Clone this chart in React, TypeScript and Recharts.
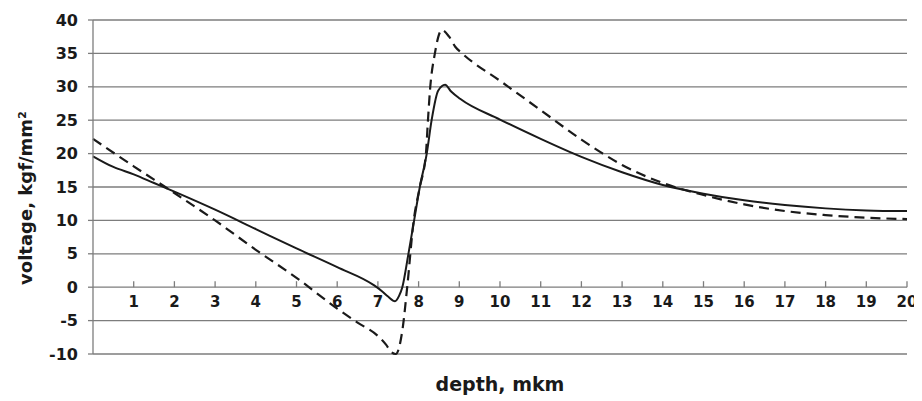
import { FC } from 'react'
import {
    CartesianGrid,
    Label,
    Line,
    LineChart,
    ReferenceDot,
    ReferenceLine,
    XAxis,
    YAxis,
} from 'recharts'

// solid curve
const solidDepth = [
    0, 0.5, 1, 1.5, 2, 3, 4, 5, 6, 6.9, 7.1, 7.25, 7.42, 7.52, 7.6, 7.75, 7.89, 8.03, 8.2, 8.32,
    8.48, 8.65, 8.8, 9.02, 10, 11, 12, 13, 14, 15, 16, 17, 18, 19, 20,
]
const solidVoltage = [
    19.6, 18.0, 16.9, 15.6, 14.3, 11.6, 8.7, 5.8, 3.0, 0.3, -0.6, -1.4, -2.1, -1.3, 0, 5, 10, 15,
    20, 25, 29.4, 30.3, 29.3, 28.2, 25.1, 22.2, 19.5, 17.2, 15.3, 14.0, 13.0, 12.3, 11.8, 11.5,
    11.4,
]

// dashed curve
const dashedDepth = [
    0, 1, 2, 3, 4, 5, 6, 6.5, 7, 7.2, 7.33, 7.44, 7.6, 7.72, 7.88, 8.03, 8.18, 8.23, 8.28, 8.4,
    8.57, 8.75, 8.9, 9.07, 10, 11, 12, 12.5, 13, 14, 15, 16, 17, 18, 19, 20,
]
const dashedVoltage = [
    22.2, 18.1, 14.1, 10, 5.6, 1.4, -3.2, -5.3, -7.3, -8.6, -9.7, -10, -6.5, 0, 10, 15, 20, 25,
    29.5, 35, 38.5, 37.5, 36, 35, 30.9, 26.5, 22.1, 20.1, 18.3, 15.6, 13.8, 12.4, 11.4, 10.8, 10.4,
    10.2,
]

const depthTicks = [1, 2, 3, 4, 5, 6, 7, 8, 9, 10, 11, 12, 13, 14, 15, 16, 17, 18, 19, 20]
const voltageTicks = [-10, -5, 0, 5, 10, 15, 20, 25, 30, 35, 40]

const solidData = solidDepth.map((d, i) => ({ depth: d, voltage: solidVoltage[i] }))
const dashedData = dashedDepth.map((d, i) => ({ depth: d, voltage: dashedVoltage[i] }))

const ink = '#1a1a1a'
const gridColor = '#7d7d7d'
const font = '"DejaVu Sans", Verdana, sans-serif'

const YTitle = (props: any) => {
    const vb = props.viewBox
    const x = vb.x + 17
    const y = vb.y + vb.height / 2 + 11
    return (
        <text
            x={x}
            y={y}
            transform={`rotate(-90, ${x}, ${y})`}
            textAnchor="middle"
            dominantBaseline="central"
            fill={ink}
            fontSize={18}
            fontWeight="bold"
            fontFamily={font}
        >
            voltage, kgf/mm²
        </text>
    )
}

const App: FC = () => {
    return (
        <div style={{ fontFamily: font }}>
            <LineChart
                width={914}
                height={393}
                margin={{ top: 12, right: 15, bottom: 0, left: 0 }}
            >
                <CartesianGrid vertical={false} stroke={gridColor} strokeWidth={1.3} />
                <XAxis
                    type="number"
                    dataKey="depth"
                    domain={[0, 20]}
                    ticks={depthTicks}
                    tick={false}
                    tickLine={false}
                    axisLine={false}
                    height={47}
                >
                    <Label
                        value="depth, mkm"
                        position="insideBottom"
                        offset={10}
                        fill={ink}
                        fontSize={19}
                        fontWeight="bold"
                    />
                </XAxis>
                <YAxis
                    type="number"
                    domain={[-10, 40]}
                    ticks={voltageTicks}
                    interval={0}
                    width={85}
                    tickSize={5}
                    tickMargin={10}
                    axisLine={{ stroke: gridColor, strokeWidth: 1.3 }}
                    tickLine={{ stroke: gridColor, strokeWidth: 1.3 }}
                    tick={{ fill: ink, fontSize: 16, fontWeight: 'bold' }}
                >
                    <Label content={YTitle} />
                </YAxis>
                {depthTicks.map((t) => (
                    <ReferenceLine
                        key={'t' + t}
                        segment={[
                            { x: t, y: 0 },
                            { x: t, y: 0.9 },
                        ]}
                        stroke={gridColor}
                        strokeWidth={1.3}
                    />
                ))}
                {depthTicks.map((t) => (
                    <ReferenceDot
                        key={'l' + t}
                        x={t}
                        y={0}
                        r={0}
                        fill="none"
                        stroke="none"
                        label={{
                            value: String(t),
                            position: 'bottom',
                            offset: 9,
                            fill: ink,
                            fontSize: 15,
                            fontWeight: 'bold',
                        }}
                    />
                ))}
                <Line
                    data={dashedData}
                    type="monotone"
                    dataKey="voltage"
                    stroke={ink}
                    strokeWidth={2.2}
                    strokeDasharray="10 6"
                    dot={false}
                    isAnimationActive={false}
                />
                <Line
                    data={solidData}
                    type="monotone"
                    dataKey="voltage"
                    stroke={ink}
                    strokeWidth={2}
                    dot={false}
                    isAnimationActive={false}
                />
            </LineChart>
        </div>
    )
}

export default App
